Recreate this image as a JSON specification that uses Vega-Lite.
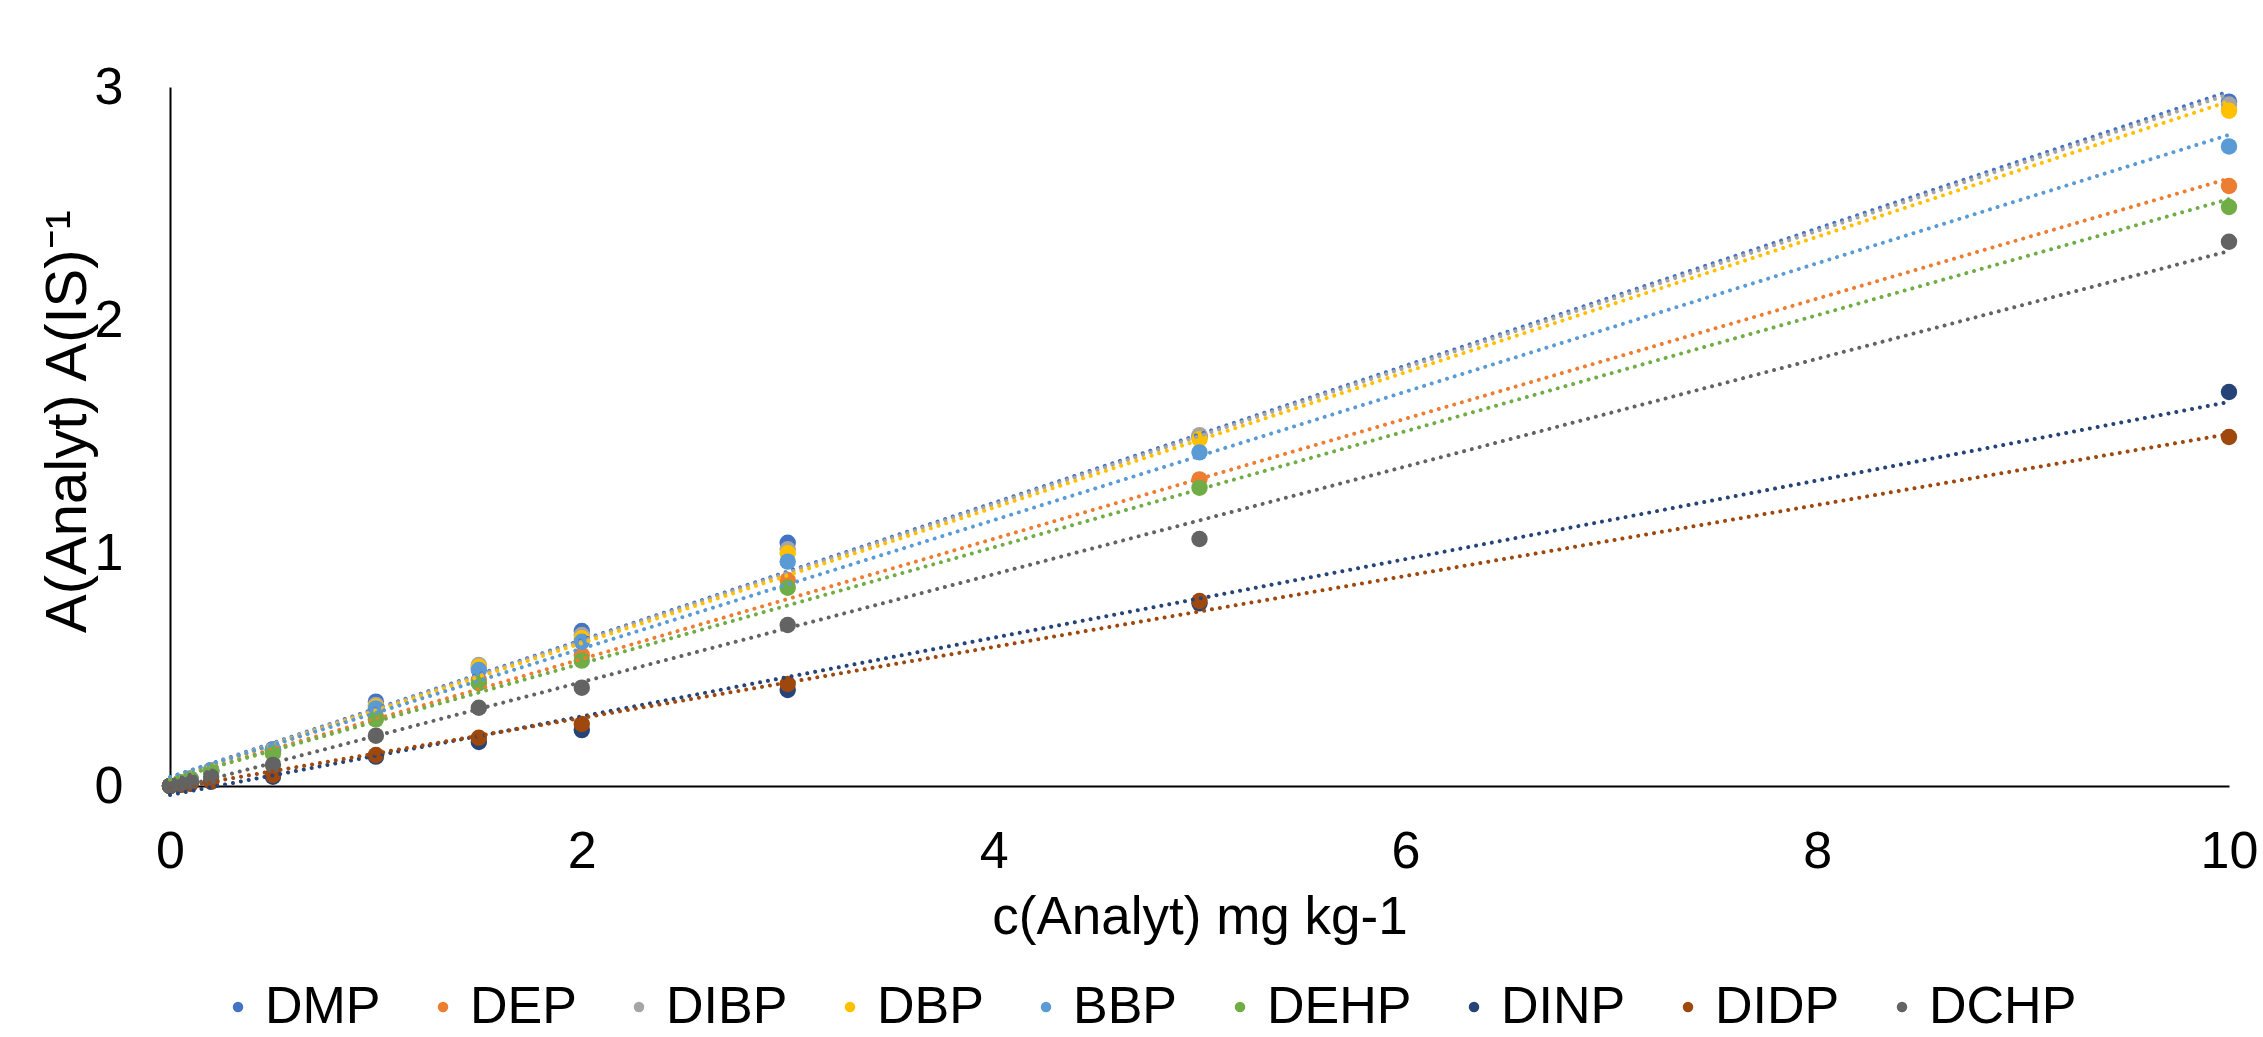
{
  "$schema": "https://vega.github.io/schema/vega-lite/v6.json",
  "width": 2059,
  "height": 699,
  "autosize": "none",
  "padding": {"left": 170, "top": 87, "right": 34, "bottom": 251},
  "background": "white",
  "config": {
    "view": {"stroke": null},
    "font": "Liberation Sans",
    "axis": {"grid": false, "ticks": false, "tickSize": 0, "labelFlush": false, "labelOverlap": false, "domainColor": "#000000", "domainWidth": 2, "labelColor": "#000000", "titleColor": "#000000", "labelFont": "Liberation Sans", "titleFont": "Liberation Sans", "titleFontWeight": "normal"}
  },
  "data": {
    "values": [
      {"s": "DMP", "c": 0, "r": 0}, {"s": "DMP", "c": 0.05, "r": 0.016}, {"s": "DMP", "c": 0.1, "r": 0.032}, {"s": "DMP", "c": 0.2, "r": 0.068}, {"s": "DMP", "c": 0.5, "r": 0.158}, {"s": "DMP", "c": 1, "r": 0.362}, {"s": "DMP", "c": 1.5, "r": 0.506}, {"s": "DMP", "c": 2, "r": 0.665}, {"s": "DMP", "c": 3, "r": 1.044}, {"s": "DMP", "c": 5, "r": 1.499}, {"s": "DMP", "c": 10, "r": 2.937},
      {"s": "DEP", "c": 0, "r": 0}, {"s": "DEP", "c": 0.05, "r": 0.014}, {"s": "DEP", "c": 0.1, "r": 0.029}, {"s": "DEP", "c": 0.2, "r": 0.062}, {"s": "DEP", "c": 0.5, "r": 0.148}, {"s": "DEP", "c": 1, "r": 0.297}, {"s": "DEP", "c": 1.5, "r": 0.455}, {"s": "DEP", "c": 2, "r": 0.562}, {"s": "DEP", "c": 3, "r": 0.884}, {"s": "DEP", "c": 5, "r": 1.316}, {"s": "DEP", "c": 10, "r": 2.575},
      {"s": "DIBP", "c": 0, "r": 0}, {"s": "DIBP", "c": 0.05, "r": 0.016}, {"s": "DIBP", "c": 0.1, "r": 0.032}, {"s": "DIBP", "c": 0.2, "r": 0.067}, {"s": "DIBP", "c": 0.5, "r": 0.156}, {"s": "DIBP", "c": 1, "r": 0.348}, {"s": "DIBP", "c": 1.5, "r": 0.519}, {"s": "DIBP", "c": 2, "r": 0.648}, {"s": "DIBP", "c": 3, "r": 1.016}, {"s": "DIBP", "c": 5, "r": 1.506}, {"s": "DIBP", "c": 10, "r": 2.925},
      {"s": "DBP", "c": 0, "r": 0}, {"s": "DBP", "c": 0.05, "r": 0.016}, {"s": "DBP", "c": 0.1, "r": 0.031}, {"s": "DBP", "c": 0.2, "r": 0.066}, {"s": "DBP", "c": 0.5, "r": 0.153}, {"s": "DBP", "c": 1, "r": 0.34}, {"s": "DBP", "c": 1.5, "r": 0.512}, {"s": "DBP", "c": 2, "r": 0.634}, {"s": "DBP", "c": 3, "r": 0.999}, {"s": "DBP", "c": 5, "r": 1.488}, {"s": "DBP", "c": 10, "r": 2.898},
      {"s": "BBP", "c": 0, "r": 0}, {"s": "BBP", "c": 0.05, "r": 0.016}, {"s": "BBP", "c": 0.1, "r": 0.031}, {"s": "BBP", "c": 0.2, "r": 0.066}, {"s": "BBP", "c": 0.5, "r": 0.155}, {"s": "BBP", "c": 1, "r": 0.333}, {"s": "BBP", "c": 1.5, "r": 0.498}, {"s": "BBP", "c": 2, "r": 0.619}, {"s": "BBP", "c": 3, "r": 0.963}, {"s": "BBP", "c": 5, "r": 1.432}, {"s": "BBP", "c": 10, "r": 2.745},
      {"s": "DEHP", "c": 0, "r": 0}, {"s": "DEHP", "c": 0.05, "r": 0.014}, {"s": "DEHP", "c": 0.1, "r": 0.028}, {"s": "DEHP", "c": 0.2, "r": 0.06}, {"s": "DEHP", "c": 0.5, "r": 0.14}, {"s": "DEHP", "c": 1, "r": 0.286}, {"s": "DEHP", "c": 1.5, "r": 0.441}, {"s": "DEHP", "c": 2, "r": 0.538}, {"s": "DEHP", "c": 3, "r": 0.851}, {"s": "DEHP", "c": 5, "r": 1.28}, {"s": "DEHP", "c": 10, "r": 2.485},
      {"s": "DINP", "c": 0, "r": 0}, {"s": "DINP", "c": 0.05, "r": 0.005}, {"s": "DINP", "c": 0.1, "r": 0.01}, {"s": "DINP", "c": 0.2, "r": 0.018}, {"s": "DINP", "c": 0.5, "r": 0.04}, {"s": "DINP", "c": 1, "r": 0.126}, {"s": "DINP", "c": 1.5, "r": 0.189}, {"s": "DINP", "c": 2, "r": 0.24}, {"s": "DINP", "c": 3, "r": 0.412}, {"s": "DINP", "c": 5, "r": 0.784}, {"s": "DINP", "c": 10, "r": 1.691},
      {"s": "DIDP", "c": 0, "r": 0}, {"s": "DIDP", "c": 0.05, "r": 0.005}, {"s": "DIDP", "c": 0.1, "r": 0.011}, {"s": "DIDP", "c": 0.2, "r": 0.02}, {"s": "DIDP", "c": 0.5, "r": 0.047}, {"s": "DIDP", "c": 1, "r": 0.133}, {"s": "DIDP", "c": 1.5, "r": 0.207}, {"s": "DIDP", "c": 2, "r": 0.266}, {"s": "DIDP", "c": 3, "r": 0.438}, {"s": "DIDP", "c": 5, "r": 0.794}, {"s": "DIDP", "c": 10, "r": 1.498},
      {"s": "DCHP", "c": 0, "r": 0}, {"s": "DCHP", "c": 0.05, "r": 0.01}, {"s": "DCHP", "c": 0.1, "r": 0.02}, {"s": "DCHP", "c": 0.2, "r": 0.04}, {"s": "DCHP", "c": 0.5, "r": 0.09}, {"s": "DCHP", "c": 1, "r": 0.216}, {"s": "DCHP", "c": 1.5, "r": 0.336}, {"s": "DCHP", "c": 2, "r": 0.422}, {"s": "DCHP", "c": 3, "r": 0.691}, {"s": "DCHP", "c": 5, "r": 1.06}, {"s": "DCHP", "c": 10, "r": 2.336}
    ]
  },
  "layer": [
    {
      "mark": {"type": "point", "filled": true, "shape": "circle", "size": 270, "opacity": 1},
      "encoding": {
        "x": {"field": "c", "type": "quantitative", "scale": {"domain": [0, 10], "nice": false},
          "axis": {"values": [0, 2, 4, 6, 8, 10], "format": "d", "labelFontSize": 52, "labelPadding": 40, "title": "c(Analyt) mg kg-1", "titleFontSize": 53, "titleBaseline": "alphabetic", "titleY": 147}},
        "y": {"field": "r", "type": "quantitative", "scale": {"domain": [0, 3], "nice": false},
          "axis": {"values": [0, 1, 2, 3], "format": "d", "labelFontSize": 52, "labelPadding": 47, "title": "A(Analyt) A(IS)⁻¹", "titleFontSize": 58, "titleBaseline": "alphabetic", "titleX": -85, "titleY": 334}},
        "color": {"field": "s", "type": "nominal",
          "scale": {"domain": ["DMP", "DEP", "DIBP", "DBP", "BBP", "DEHP", "DINP", "DIDP", "DCHP"],
                    "range": ["#4472C4", "#ED7D31", "#A5A5A5", "#FFC000", "#5B9BD5", "#70AD47", "#264478", "#9E480E", "#636363"]},
          "legend": {"title": null, "orient": "none", "direction": "horizontal", "columns": 9, "legendX": 42, "legendY": 894,
            "labelFontSize": 52, "labelColor": "#000000", "labelFont": "Liberation Sans", "symbolType": "circle", "symbolSize": 110, "symbolStrokeWidth": 0, "labelOffset": 1, "columnPadding": 36}}
      }
    },
    {
      "transform": [{"regression": "r", "on": "c", "groupby": ["s"]}],
      "mark": {"type": "line", "strokeDash": [0.01, 8], "strokeCap": "round", "strokeWidth": 4},
      "encoding": {
        "x": {"field": "c", "type": "quantitative"},
        "y": {"field": "r", "type": "quantitative"},
        "stroke": {"field": "s", "type": "nominal",
          "scale": {"domain": ["DMP", "DEP", "DIBP", "DBP", "BBP", "DEHP", "DINP", "DIDP", "DCHP"],
                    "range": ["#4472C4", "#ED7D31", "#A5A5A5", "#FFC000", "#5B9BD5", "#70AD47", "#264478", "#9E480E", "#636363"]},
          "legend": null}
      }
    }
  ]
}
